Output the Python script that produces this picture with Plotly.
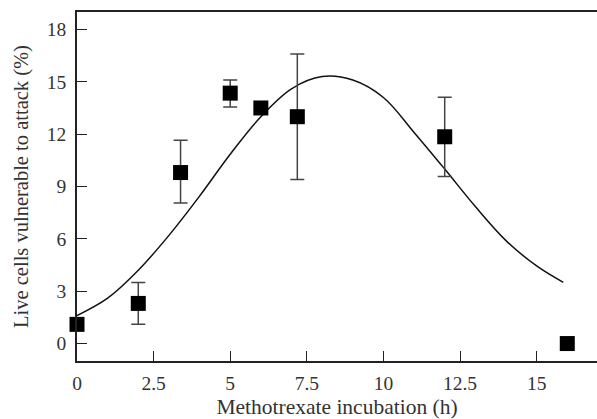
import plotly.graph_objects as go

# Measured data points
x_pts = [0, 2, 3.38, 5, 6, 7.19, 12, 16]
y_pts = [1.1, 2.3, 9.8, 14.35, 13.5, 13.0, 11.85, 0.0]
err_plus = [0, 1.2, 1.85, 0.75, 0, 3.6, 2.27, 0]
err_minus = [0, 1.2, 1.75, 0.8, 0, 3.6, 2.27, 0]

# Fitted curve
x_fit = [0, 1, 2, 3, 4, 5, 6, 7, 8, 9, 10, 11, 12, 13, 14, 15, 15.87]
y_fit = [1.6, 2.6, 4.2, 6.2, 8.45, 10.85, 13.0, 14.6, 15.3, 15.1, 14.1, 12.1, 10.0, 7.85, 5.9, 4.45, 3.51]

x_ticks = [0, 2.5, 5, 7.5, 10, 12.5, 15]
x_tick_labels = ["0", "2.5", "5", "7.5", "10", "12.5", "15"]
y_ticks = [0, 3, 6, 9, 12, 15, 18]

FONT = "Liberation Serif"

fig = go.Figure()
fig.add_trace(go.Scatter(
    x=x_fit, y=y_fit, mode="lines",
    line=dict(color="#111", width=1.5, shape="spline", smoothing=1.0),
    hoverinfo="skip", showlegend=False))
fig.add_trace(go.Scatter(
    x=x_pts, y=y_pts, mode="markers", cliponaxis=False,
    marker=dict(symbol="square", size=15, color="black", line=dict(width=0)),
    error_y=dict(type="data", symmetric=False, array=err_plus, arrayminus=err_minus,
                 color="#444", thickness=1.5, width=7),
    showlegend=False))

fig.update_layout(
    width=597, height=419,
    margin=dict(l=77, r=0, t=12, b=58),
    paper_bgcolor="white", plot_bgcolor="white",
    font=dict(family=FONT, size=19.5, color="#333"),
    xaxis=dict(range=[0, 16.97], tickvals=x_ticks, ticktext=x_tick_labels,
               ticks="inside", ticklen=10, tickwidth=1.3, tickcolor="#222",
               showline=True, linecolor="#222", linewidth=1.5, mirror=True,
               showgrid=False, zeroline=False, ticklabelstandoff=4,
               title=dict(text="Methotrexate incubation (h)", font=dict(size=21.5), standoff=8)),
    yaxis=dict(range=[-1, 19], tickvals=y_ticks,
               ticks="inside", ticklen=10, tickwidth=1.3, tickcolor="#222",
               showline=True, linecolor="#222", linewidth=1.5,
               showgrid=False, zeroline=False, ticklabelstandoff=5,
               title=dict(text="Live cells vulnerable to attack (%)", font=dict(size=20.5), standoff=13)),
)

fig.write_html("out.html")
